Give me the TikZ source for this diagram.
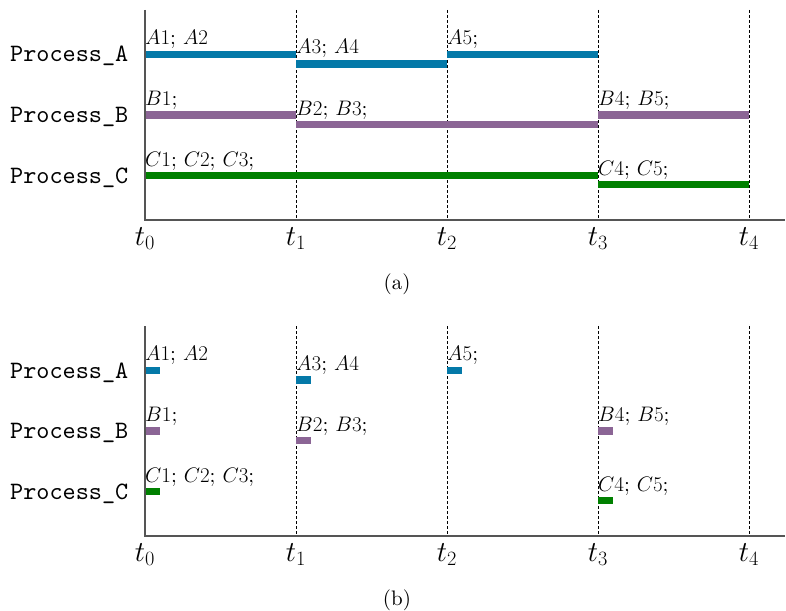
\RequirePackage{fix-cm}
\documentclass[tikz,border=0pt]{standalone}
\usepackage{fontspec}
\setmainfont{lmroman10-regular}[Extension=.otf, ItalicFont=lmroman10-italic, BoldFont=lmroman10-bold]
\setmonofont{lmmono10-regular}[Extension=.otf]
\definecolor{pA}{HTML}{0479A8}
\definecolor{pB}{HTML}{8B6595}
\definecolor{pC}{HTML}{008000}
\definecolor{axisgray}{HTML}{555555}
\begin{document}
\begin{tikzpicture}[x=1pt,y=-1pt,
  procbar/.style={line width=7.5pt},
  lab/.style={anchor=base west, inner sep=0pt, font=\fontsize{21}{25}\selectfont},
  proc/.style={anchor=base west, inner sep=0pt, font=\ttfamily\fontsize{25}{29}\selectfont},
  ticklab/.style={anchor=base, inner sep=0pt, font=\fontsize{29}{34}\selectfont},
  capt/.style={anchor=base, inner sep=0pt, font=\fontsize{21}{25}\selectfont},
  guide/.style={dash pattern=on 3pt off 2pt, line width=0.8pt},
  axisline/.style={axisgray, line width=1.3pt}]
\useasboundingbox (0,0) rectangle (786,610);
\foreach \o/\cap/\p in {0/a/0, 316/b/1}{
  % guides
  \foreach \x in {296,447,598,749}{
    \draw[guide] (\x,10+\o) -- (\x,220+\o);
  }
  % process labels
  \node[proc] (pa\cap) at (10,62+\o) {Process\_A};
  \node[proc] (pb\cap) at (10,122+\o) {Process\_B};
  \node[proc] (pc\cap) at (10,183+\o) {Process\_C};
  % tick labels
  \node[ticklab] (t0\cap) at (145,245+\o) {$t_0$};
  \node[ticklab] (t1\cap) at (296,245+\o) {$t_1$};
  \node[ticklab] (t2\cap) at (447,245+\o) {$t_2$};
  \node[ticklab] (t3\cap) at (598,245+\o) {$t_3$};
  \node[ticklab] (t4\cap) at (749,245+\o) {$t_4$};
  \node[capt] (cap\cap) at (397,289+\o) {(\cap)};
  % bars: start x / end x / y / color
  \foreach \s/\e/\y/\c in {145/296/54.5/pA, 296/447/64/pA, 447/598/54.5/pA,
                          145/296/115/pB, 296/598/124.5/pB, 598/749/115/pB,
                          145/598/175.5/pC, 598/749/184.5/pC}{
    \pgfmathsetmacro{\ee}{\p==0 ? \e : \s+15}
    \draw[procbar,\c] (\s,\y+\o) -- (\ee,\y+\o);
  }
  % labels
  \node[lab] (la1\cap) at (145,44.5+\o) {$A1$; $A2$};
  \node[lab] (la3\cap) at (296,54+\o) {$A3$; $A4$};
  \node[lab] (la5\cap) at (447,44.5+\o) {$A5$;};
  \node[lab] (lb1\cap) at (145,105.5+\o) {$B1$;};
  \node[lab] (lb2\cap) at (296,115+\o) {$B2$; $B3$;};
  \node[lab] (lb4\cap) at (598,105.5+\o) {$B4$; $B5$;};
  \node[lab] (lc1\cap) at (145,166.5+\o) {$C1$; $C2$; $C3$;};
  \node[lab] (lc4\cap) at (598,175.5+\o) {$C4$; $C5$;};
  % axes
  \draw[axisline] (145,10+\o) -- (145,220+\o) -- (785,220+\o);
}
\end{tikzpicture}
\end{document}
